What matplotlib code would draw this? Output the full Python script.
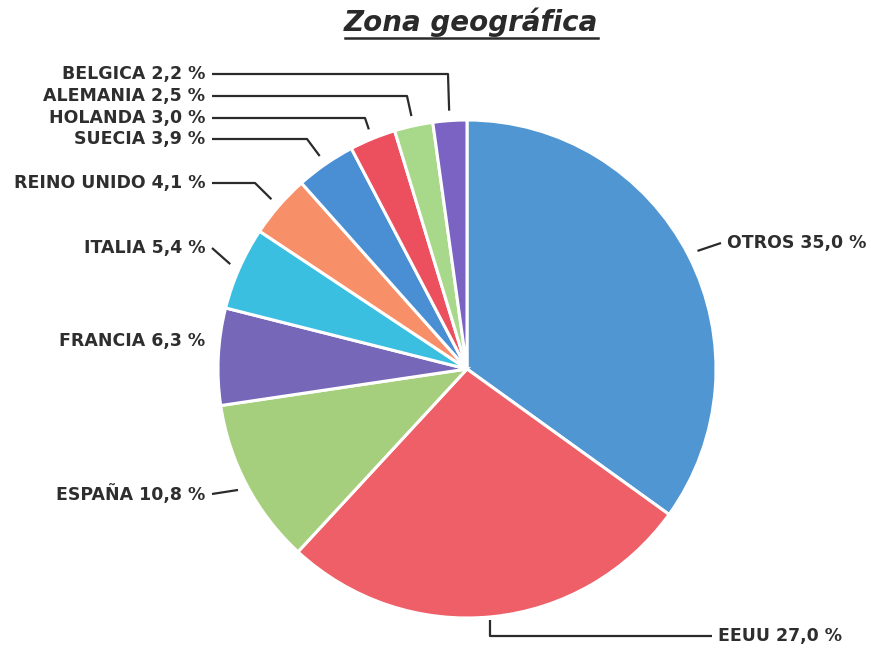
import matplotlib
matplotlib.use('Agg')
import matplotlib.pyplot as plt
import numpy as np

W, H = 871, 648

names = ['OTROS', 'EEUU', 'ESPAÑA', 'FRANCIA', 'ITALIA', 'REINO UNIDO',
         'SUECIA', 'HOLANDA', 'ALEMANIA', 'BELGICA']
values = [35.0, 27.0, 10.8, 6.3, 5.4, 4.1, 3.9, 3.0, 2.5, 2.2]
colors = ['#5096d2', '#ee5f68', '#a5cf7c', '#7767b8', '#3bbfe0', '#f79068',
          '#4a8fd3', '#ec4f5d', '#a8d98a', '#7a63c3']

# label layout in pixels (text anchor x, y, bend x or None, side)
label_pos = {
    'OTROS': (727, 243, None, 'left'),
    'EEUU': (718, 636, 490, 'left'),
    'ESPAÑA': (205, 494, None, 'right'),
    'FRANCIA': (205, 341, 'none', 'right'),
    'ITALIA': (205, 248, None, 'right'),
    'REINO UNIDO': (205, 183, 255, 'right'),
    'SUECIA': (205, 139, 307, 'right'),
    'HOLANDA': (205, 118, 365, 'right'),
    'ALEMANIA': (205, 96, 407, 'right'),
    'BELGICA': (205, 74, 448, 'right'),
}

cx, cy, r = 467, 369, 249

fig = plt.figure(figsize=(W / 100, H / 100), dpi=100)
ax = fig.add_axes([0, 0, 1, 1])

wedges, _ = ax.pie(values, colors=colors, startangle=90, counterclock=False,
                   center=(cx, H - cy), radius=r, frame=True,
                   wedgeprops=dict(edgecolor='white', linewidth=2.2))
ax.set_xlim(0, W)
ax.set_ylim(0, H)
ax.set_aspect('equal')
ax.axis('off')

lc = '#2b2b2b'
for w, name, v in zip(wedges, names, values):
    ang = np.deg2rad((w.theta1 + w.theta2) / 2)
    ax_ = cx + 1.04 * r * np.cos(ang)
    ay_ = cy - 1.04 * r * np.sin(ang)
    tx, ty, bend, side = label_pos[name]
    txt = f'{name} {v:.1f} %'.replace('.', ',')
    ax.text(tx, H - ty, txt, ha=side, va='center', fontsize=12.5,
            fontweight='bold', color='#2e2e2e', family='DejaVu Sans')
    if bend == 'none':
        continue
    sx = tx + 7 if side == 'right' else tx - 6
    if name == 'EEUU':
        xs, ys = [sx, bend, bend], [ty, ty, ty - 16]
    elif bend is None:
        xs, ys = [sx, ax_], [ty, ay_]
    else:
        xs, ys = [sx, bend, ax_], [ty, ty, ay_]
    ax.plot(xs, [H - y for y in ys], color=lc, lw=1.6, solid_capstyle='butt')

ax.text(471, H - 31, 'Zona geográfica', ha='center', va='baseline',
        fontsize=20, fontweight='bold', fontstyle='italic', color='#2a2a2a')
ax.plot([345, 598], [H - 38, H - 38], color='#2a2a2a', lw=1.8)

fig.savefig('out.png', dpi=100, facecolor='white')
